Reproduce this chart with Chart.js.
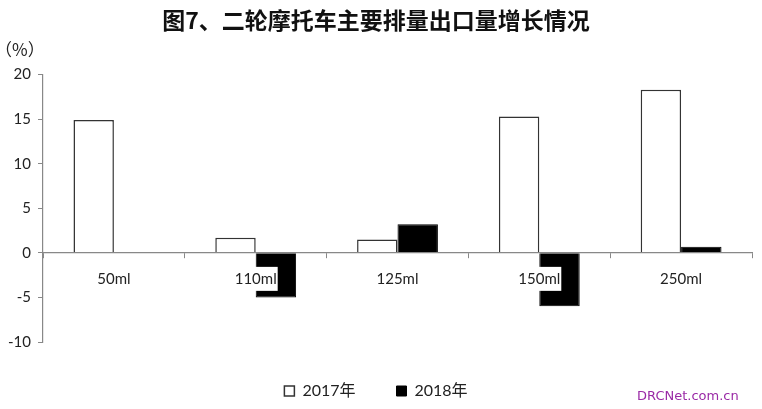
<!DOCTYPE html>
<html>
<head>
<meta charset="utf-8">
<script src="https://cdn.jsdelivr.net/npm/chart.js@4.4.0/dist/chart.umd.min.js"></script>
<style>
  html, body { margin: 0; padding: 0; background: #fff; }
</style>
</head>
<body>
<canvas id="chart" width="762" height="409"></canvas>
<script>
const categories = ['50ml', '110ml', '125ml', '150ml', '250ml'];
const seriesNames = ['2017年', '2018年'];
const growth2017 = [14.9, 1.7, 1.5, 15.3, 18.3];
const growth2018 = [null, -5.0, 3.2, -6.0, 0.7];
const yMin = -10, yMax = 20, yStep = 5;

const FONT = "Lato, 'Noto Sans CJK SC', sans-serif";

// unit label and watermark
const extras = {
    id: 'extras',
    afterDraw(chart) {
        const ctx = chart.ctx;
        ctx.save();
        ctx.fillStyle = '#222';
        ctx.font = "17px 'Noto Sans CJK SC', sans-serif";
        ctx.textBaseline = 'middle';
        ctx.textAlign = 'left';
        ctx.fillText('（%）', -5, 50);
        ctx.fillStyle = '#9a2aa6';
        ctx.font = "13px 'DejaVu Sans', sans-serif";
        ctx.fillText('DRCNet.com.cn', 637, 397);
        ctx.restore();
    }
};

new Chart(document.getElementById('chart'), {
    type: 'bar',
    data: {
        labels: categories,
        datasets: [
            {
                label: seriesNames[0],
                data: growth2017,
                backgroundColor: '#fff',
                borderColor: '#333',
                borderWidth: 1.5
            },
            {
                label: seriesNames[1],
                data: growth2018,
                backgroundColor: '#000',
                borderColor: '#000',
                borderWidth: 1
            }
        ]
    },
    options: {
        responsive: false,
        animation: false,
        categoryPercentage: 0.57,
        barPercentage: 1,
        layout: { padding: { left: 0, right: 10, top: 0, bottom: 0 } },
        plugins: {
            title: {
                display: true,
                text: '图7、二轮摩托车主要排量出口量增长情况',
                color: '#111',
                font: { family: "'Noto Sans CJK SC', sans-serif", size: 23, weight: 'bold' },
                padding: { top: 6, bottom: 41 }
            },
            legend: {
                position: 'bottom',
                labels: {
                    color: '#222',
                    font: { family: FONT, size: 16 },
                    boxWidth: 10,
                    boxHeight: 10,
                    padding: 41
                }
            },
            tooltip: { enabled: false }
        },
        scales: {
            x: {
                position: { y: 0 },
                offset: true,
                grid: { display: true, drawOnChartArea: false, offset: true, tickLength: 5, color: '#888' },
                border: { color: '#888', width: 1.2, z: 1 },
                ticks: {
                    z: 1,
                    color: '#222',
                    font: { family: FONT, size: 15 },
                    padding: 12,
                    showLabelBackdrop: true,
                    backdropColor: '#fff',
                    backdropPadding: { left: 1, right: 1, top: 3, bottom: 3 }
                }
            },
            y: {
                min: yMin,
                max: yMax,
                ticks: { stepSize: yStep, color: '#222', font: { family: FONT, size: 15 }, padding: 7 },
                grid: { display: true, drawOnChartArea: false, tickLength: 5, color: '#888' },
                border: { color: '#888', width: 1.2 },
                afterFit(scale) { scale.width = 43; }
            }
        }
    },
    plugins: [extras]
});
</script>
</body>
</html>
